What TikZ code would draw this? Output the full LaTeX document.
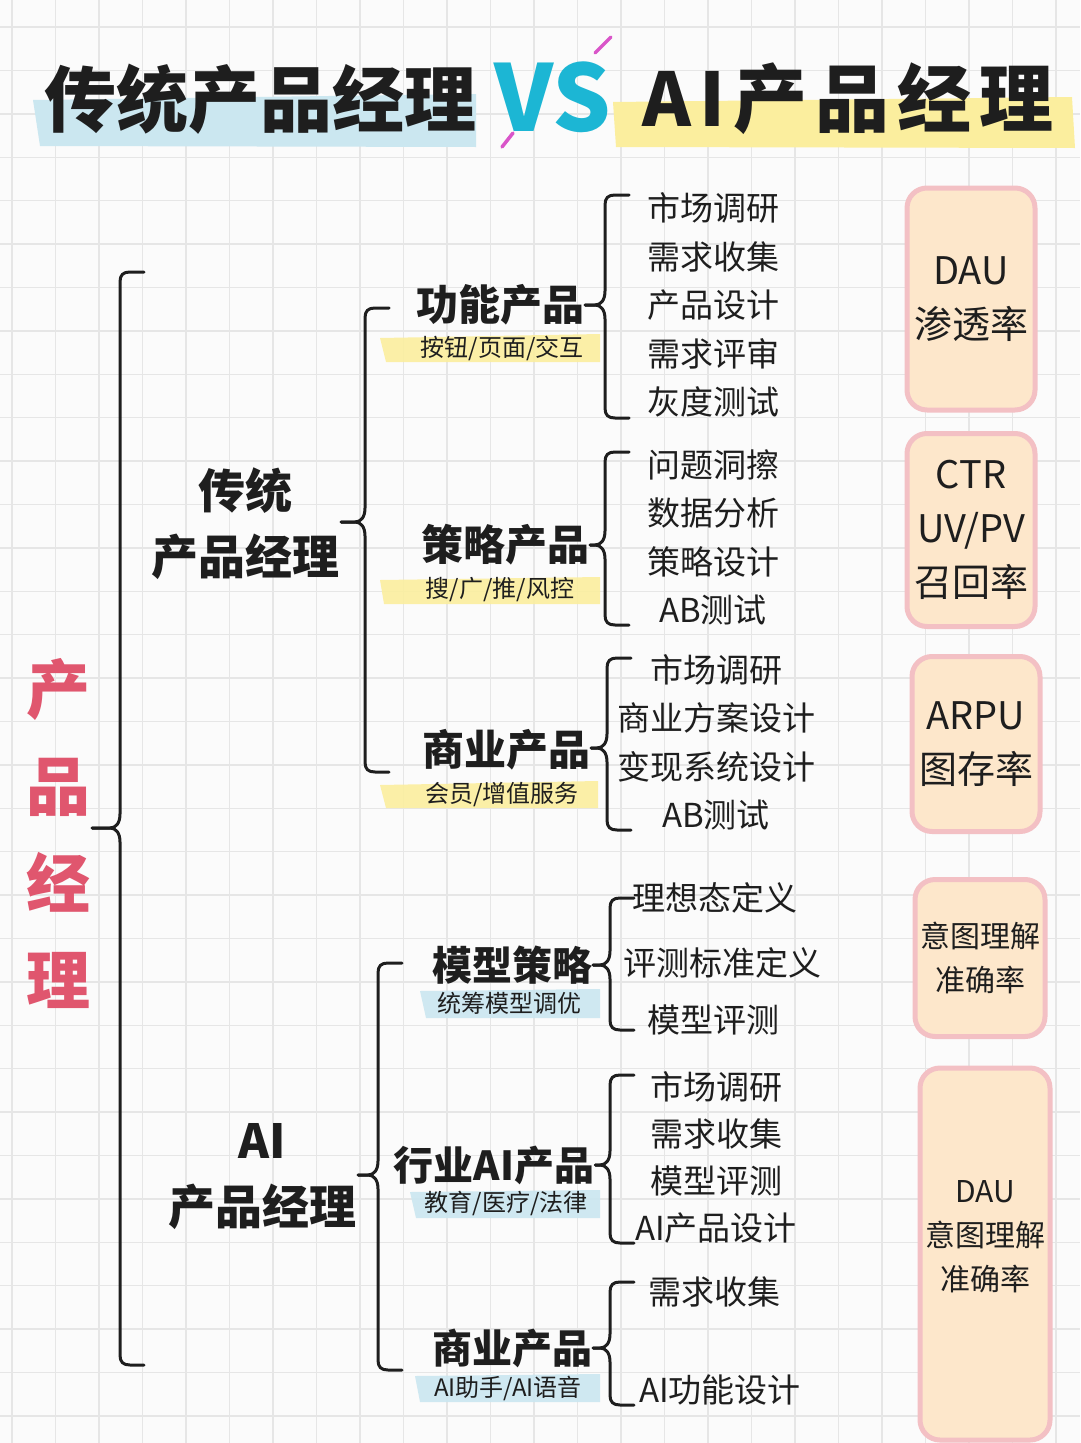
\documentclass[tikz,border=0pt]{standalone}
\usepackage{fontspec}
\setmainfont{Noto Sans CJK SC}
\usetikzlibrary{positioning}
\definecolor{pmGrid}{HTML}{E6E6E6}
\definecolor{pmPaper}{HTML}{FBFBFB}
\definecolor{pmRed}{HTML}{E0566E}
\definecolor{pmCyan}{HTML}{1CB6D4}
\definecolor{pmMagenta}{HTML}{D955C9}
\definecolor{pmYellow}{HTML}{FBEE9E}
\definecolor{pmBlue}{HTML}{CBE7F0}
\definecolor{pmPeach}{HTML}{FDE7CB}
\definecolor{pmPink}{HTML}{F3C0C4}
\definecolor{pmInk}{HTML}{1E1E1E}
\tikzset{
  gridLine/.style={pmGrid, line width=1.4pt},
  braceLine/.style={pmInk, line width=3pt, line cap=round},
  titleText/.style={pmInk, font=\fontsize{72}{80}\selectfont\bfseries, inner sep=0pt},
  rootText/.style={
    pmRed,
    align=center,
    font=\fontsize{64}{97}\selectfont\bfseries,
    inner sep=2pt
  },
  roleText/.style={
    pmInk,
    align=center,
    font=\fontsize{47}{66}\selectfont\bfseries,
    inner sep=2pt
  },
  productText/.style={pmInk, font=\fontsize{42}{50}\selectfont\bfseries, inner sep=1pt},
  aiProductText/.style={productText, font=\fontsize{40}{48}\selectfont\bfseries},
  tagText/.style={pmInk, font=\fontsize{24}{28}\selectfont, inner sep=1pt},
  itemText/.style={pmInk, font=\fontsize{33}{40}\selectfont, inner sep=1pt},
  metricBox/.style={
    draw=pmPink,
    fill=pmPeach,
    line width=5pt,
    rounded corners=20pt,
    align=center,
    text=pmInk,
    font=\fontsize{38}{54}\selectfont
  },
  metricSmall/.style={metricBox, font=\fontsize{30}{44}\selectfont},
  yellowTag/.style={fill=pmYellow, opacity=0.9},
  blueTag/.style={fill=pmBlue, opacity=0.9},
  vsSlash/.style={pmMagenta, line width=3.5pt, line cap=round}
}
\newcommand{\pmBrace}[5]{%
  \draw[braceLine] (#1+24,#2) -- (#1+10,#2) .. controls (#1+3,#2) and (#1,#2+3) .. (#1,#2+10)
    -- (#1,#4-14) .. controls (#1,#4-5) and (#1-4,#4) .. (#1-10,#4) -- (#5.east |- 0,#4);
  \draw[braceLine] (#5.east |- 0,#4) -- (#1-10,#4) .. controls (#1-4,#4) and (#1,#4+5) .. (#1,#4+14)
    -- (#1,#3-10) .. controls (#1,#3-3) and (#1+3,#3) .. (#1+10,#3) -- (#1+24,#3);
}
\begin{document}
\begin{tikzpicture}[x=1pt,y=-1pt]
  \useasboundingbox (0,0) rectangle (1080,1443);
  \fill[pmPaper] (0,0) rectangle (1080,1443);
  \begin{scope}
    \clip (0,0) rectangle (1080,1443);
    \foreach \gx in {0,...,24}
      \draw[gridLine] (12+43.5*\gx,0) -- (12+43.5*\gx,1443);
    \foreach \gy in {0,...,32}
      \draw[gridLine] (0,27+43.4*\gy) -- (1080,27+43.4*\gy);
  \end{scope}

  \fill[pmBlue] (33,100) -- (476,94) -- (476,147) -- (40,146) -- cycle;
  \fill[pmYellow] (613,102) -- (1072,97) -- (1075,148) -- (616,147) -- cycle;
  \node[titleText] (tradTitle) at (260,99) {传统产品经理};
  \node[titleText, font=\fontsize{74}{80}\selectfont\bfseries\addfontfeatures{LetterSpace=11}]
    (aiTitle) at (848,99) {AI产品经理};
  \node[font=\fontsize{92}{92}\selectfont\bfseries, text=pmCyan, inner sep=0pt] (vs) at (553,97) {VS};
  \draw[vsSlash] (611,37) -- (595,53);
  \draw[vsSlash] (513,133) -- (502,147);

  \node[rootText] (root) at (58,833) {产\\品\\经\\理};
  \node[roleText] (trad) at (245,524) {传统\\产品经理};
  \node[roleText] (aipm) at (262,1177) {AI\\产品经理};

  \fill[yellowTag] (380,338) -- (600,334) -- (600,362) -- (386,362) -- cycle;
  \fill[yellowTag] (380,580) -- (600,577) -- (600,604) -- (384,604) -- cycle;
  \fill[yellowTag] (380,785) -- (598,781) -- (598,808) -- (386,808) -- cycle;
  \fill[blueTag] (420,991) -- (600,989) -- (600,1018) -- (426,1018) -- cycle;
  \fill[blueTag] (410,1192) -- (600,1190) -- (600,1218) -- (416,1218) -- cycle;
  \fill[blueTag] (415,1376) -- (600,1374) -- (600,1402) -- (420,1402) -- cycle;

  \node[productText] (func) at (500,305) {功能产品};
  \node[tagText] (funcTag) at (502,348) {按钮/页面/交互};
  \node[productText] (strat) at (505,545) {策略产品};
  \node[tagText] (stratTag) at (500,590) {搜/广/推/风控};
  \node[productText] (biz) at (506,750) {商业产品};
  \node[tagText] (bizTag) at (502,795) {会员/增值服务};
  \node[aiProductText] (model) at (512,965) {模型策略};
  \node[tagText] (modelTag) at (509,1003) {统筹模型调优};
  \node[aiProductText] (ind) at (494,1165) {行业AI产品};
  \node[tagText] (indTag) at (506,1203) {教育/医疗/法律};
  \node[aiProductText] (aibiz) at (512,1348) {商业产品};
  \node[tagText] (aibizTag) at (508,1388) {AI助手/AI语音};

  \foreach \t [count=\i from 0] in {市场调研,需求收集,产品设计,需求评审,灰度测试}
    \node[itemText] (fa\i) at (713,208+48.5*\i) {\t};
  \foreach \t [count=\i from 0] in {问题洞擦,数据分析,策略设计,AB测试}
    \node[itemText] (st\i) at (713,465+48.3*\i) {\t};
  \foreach \t [count=\i from 0] in {市场调研,商业方案设计,变现系统设计,AB测试}
    \node[itemText] (bz\i) at (716,670+48.4*\i) {\t};
  \node[itemText] (md0) at (715,898) {理想态定义};
  \node[itemText] (md1) at (722,963) {评测标准定义};
  \node[itemText] (md2) at (713,1020) {模型评测};
  \foreach \t [count=\i from 0] in {市场调研,需求收集,模型评测,AI产品设计}
    \node[itemText] (in\i) at (716,1087+47*\i) {\t};
  \node[itemText] (ab0) at (714,1292) {需求收集};
  \node[itemText] (ab1) at (720,1390) {AI功能设计};

  \pmBrace{120}{272}{1365}{828}{root}
  \pmBrace{365}{308}{772}{522}{trad}
  \pmBrace{378}{963}{1370}{1175}{aipm}
  \pmBrace{605}{195}{418}{305}{func}
  \pmBrace{605}{452}{625}{545}{strat}
  \pmBrace{607}{658}{830}{748}{biz}
  \pmBrace{610}{898}{1030}{965}{model}
  \pmBrace{610}{1075}{1243}{1165}{ind}
  \pmBrace{610}{1282}{1405}{1348}{aibiz}

  \node[metricBox, minimum width=128pt, minimum height=222pt] (m1) at (971,299) {DAU\\渗透率};
  \node[metricBox, minimum width=128pt, minimum height=193pt] (m2) at (971,530) {CTR\\UV/PV\\召回率};
  \node[metricBox, minimum width=128pt, minimum height=175pt] (m3) at (976,744) {ARPU\\图存率};
  \node[metricSmall, minimum width=130pt, minimum height=157pt] (m4) at (980,958) {意图理解\\准确率};
  \node[metricSmall, minimum width=130pt, minimum height=372pt] (m5) at (985,1254) {};
  \node[itemText, align=center, font=\fontsize{30}{44}\selectfont] (m5t) at (985,1237) {DAU\\意图理解\\准确率};
\end{tikzpicture}
\end{document}
